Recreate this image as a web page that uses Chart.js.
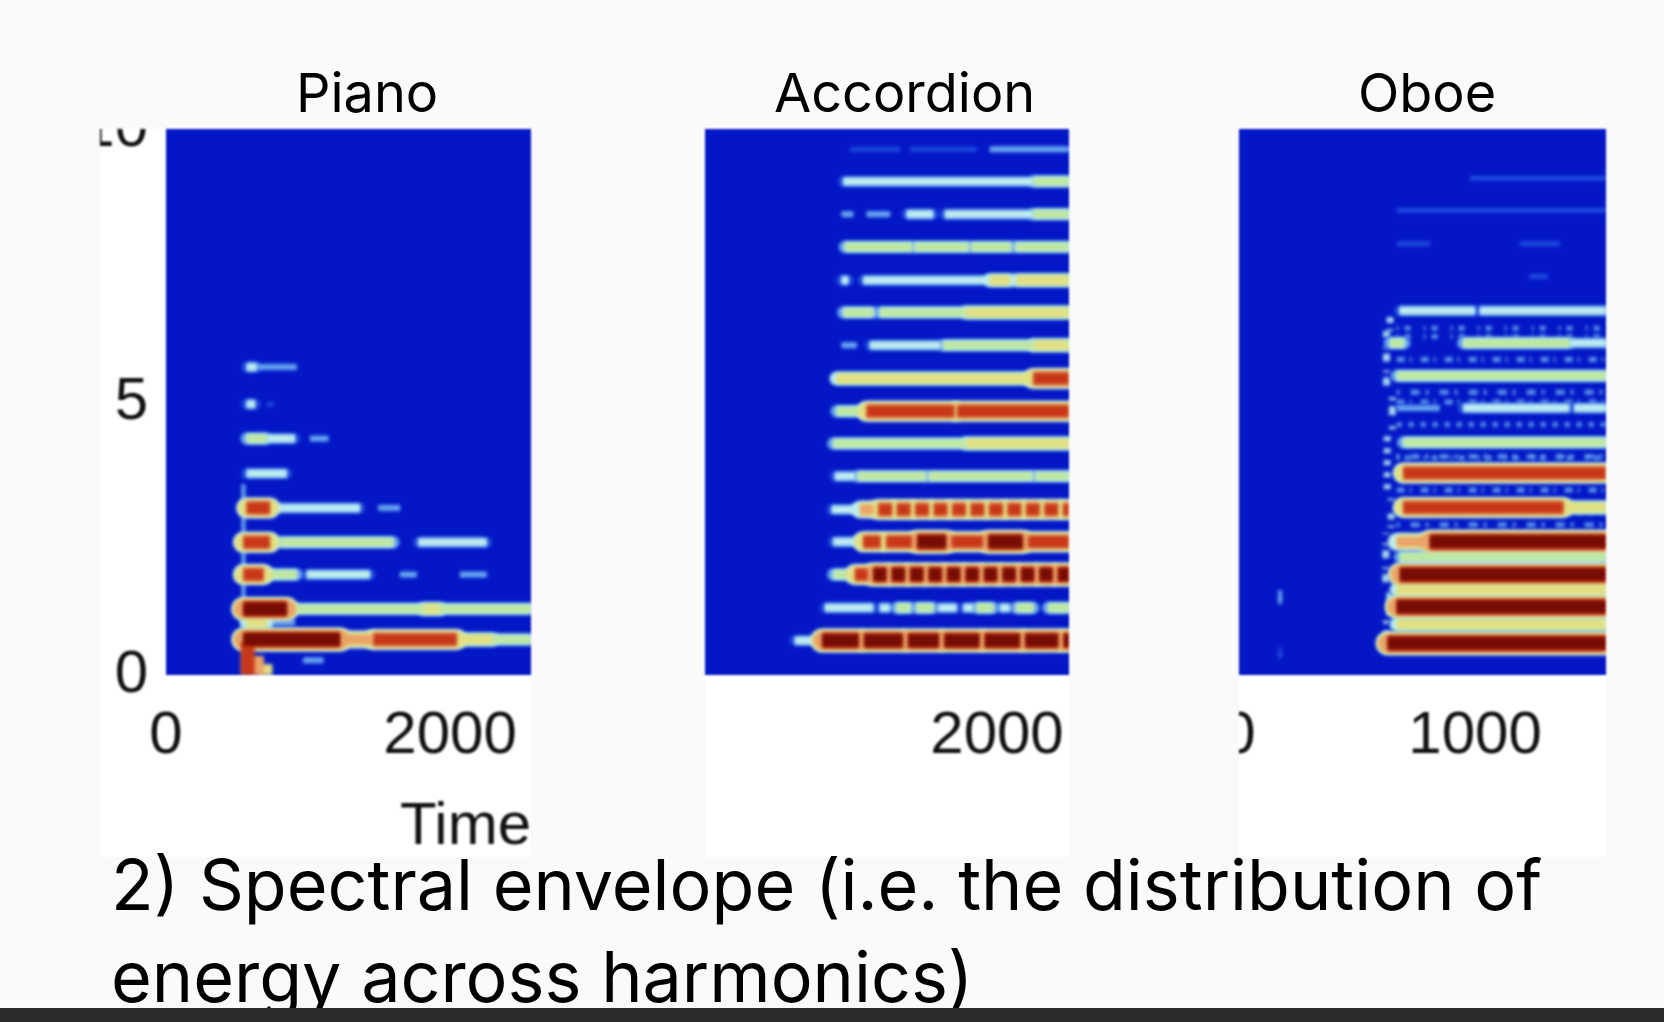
<!DOCTYPE html>
<html><head><meta charset="utf-8">
<script src="https://cdn.jsdelivr.net/npm/chart.js@4"></script>
<style>
html,body{margin:0;padding:0;background:#fafafa;width:1664px;height:1022px;overflow:hidden}
.t{position:absolute;font-family:"Inter",sans-serif;color:#000;white-space:nowrap;line-height:1}
.p{position:absolute;top:129px;height:728px;background:#fff}
.p canvas{filter:blur(.9px)}
#bar{position:absolute;left:0;top:1008px;width:1664px;height:14px;background:#2a2a2a}
</style></head><body>
<div class="p" style="left:100px;width:431px"><canvas id="c0"></canvas></div>
<div class="p" style="left:705px;width:364px"><canvas id="c1"></canvas></div>
<div class="p" style="left:1239px;width:367px"><canvas id="c2"></canvas></div>
<div class="t" style="left:296px;top:66px;font-size:54px">Piano</div>
<div class="t" style="left:774px;top:66px;font-size:54px">Accordion</div>
<div class="t" style="left:1358px;top:66px;font-size:54px">Oboe</div>
<div class="t" style="left:111px;top:850px;font-size:70px">2) Spectral envelope (i.e. the distribution of</div>
<div class="t" style="left:111px;top:942px;font-size:70px">energy across harmonics)</div>
<div id="bar"></div>
<script>
// frequency of each band (kHz); segments are [band, tStart, tEnd, level]; onsets are [t, fLow, fHigh, level]
const pianoBands=[0.27,0.65,0.96,1.21,1.84,2.43,3.06,3.69,4.33,4.96,5.64];
const pianoSegments=[
[0,967,1108,1],
[1,545,1225,7],[1,1225,1460,5],[1,1460,2047,6],[1,2047,2300,4],[1,2300,2568,3],
[2,568,709,4],[2,709,908,1],
[3,545,850,7],[3,873,1812,3],[3,1812,1929,4],[3,1929,2568,3],
[4,545,686,6],[4,709,920,3],[4,991,1436,2],[4,1648,1765,1],[4,2070,2258,1],
[5,545,732,6],[5,803,1601,3],[5,1777,2258,2],
[6,568,732,6],[6,779,1366,2],[6,1495,1648,1],
[7,568,850,2],
[8,568,709,3],[8,709,908,2],[8,1014,1143,1],
[9,568,627,2],[9,709,756,0],
[10,568,639,2],[10,639,920,1]];
const pianoOnsets=[[545,0,3.5,1],[575,0,0.6,6],[640,0,0.35,5],[700,0,0.2,4]];
const pianoXTicks=[0,2000];
const accordionBands=[0.63,1.23,1.84,2.44,3.03,3.64,4.24,4.83,5.43,6.04,6.64,7.23,7.84,8.44,9.04,9.63];
const accordionSegments=[
[0,577,730,2],[0,770,1025,7],[0,1065,1335,7],[0,1375,1590,7],[0,1630,1875,7],[0,1915,2160,7],[0,2200,2430,7],[0,2470,2507,7],
[1,789,1129,2],[1,1175,1246,2],[1,1293,1390,3],[1,1434,1551,3],[1,1587,1716,2],[1,1763,1833,2],[1,1857,1974,3],[1,2020,2091,2],[1,2135,2256,3],[1,2361,2507,3],
[2,847,941,3],[2,1000,1090,6],[2,1130,1220,7],[2,1260,1350,7],[2,1390,1480,7],[2,1520,1610,7],[2,1650,1740,7],[2,1780,1870,7],[2,1910,2000,7],[2,2040,2130,7],[2,2170,2260,7],[2,2300,2390,7],[2,2430,2507,7],
[3,847,1058,2],[3,1058,1180,6],[3,1220,1400,6],[3,1440,1640,7],[3,1680,1900,6],[3,1940,2180,7],[3,2220,2507,6],
[4,836,1035,2],[4,1035,1130,5],[4,1165,1260,6],[4,1295,1390,6],[4,1425,1520,6],[4,1555,1650,6],[4,1685,1780,6],[4,1815,1910,6],[4,1945,2040,6],[4,2075,2170,6],[4,2205,2300,6],[4,2335,2430,6],[4,2465,2507,6],
[5,859,1000,2],[5,1020,1500,3],[5,1520,2250,3],[5,2270,2507,3],
[6,847,1786,3],[6,1786,2507,4],
[7,871,1082,3],[7,1082,1700,6],[7,1720,2507,6],
[8,871,2256,4],[8,2256,2507,6],
[9,906,1012,1],[9,1105,1600,2],[9,1620,2256,3],[9,2256,2507,4],
[10,918,1129,3],[10,1176,1786,3],[10,1786,2507,4],
[11,906,953,2],[11,1058,1950,2],[11,1950,2091,4],[11,2138,2507,4],
[12,929,1400,3],[12,1420,1800,3],[12,1820,2100,3],[12,2130,2507,3],
[13,906,988,1],[13,1082,1246,1],[13,1364,1551,2],[13,1633,2256,2],[13,2256,2507,3],
[14,918,2256,2],[14,2256,2507,3],
[15,965,1317,0],[15,1387,1857,0],[15,1950,2507,1]];
const accordionOnsets=[];
const accordionXTicks=[2000];
const oboeBands=[0.58,0.93,1.25,1.56,1.84,2.16,2.44,3.07,3.7,4.26,4.89,5.48,6.08,6.67,7.3,7.9,8.51,9.1];
const oboeSegments=[
[0,630,1555,7],[1,668,1555,4],[2,668,1555,7],[3,668,1555,4],[4,682,1555,7],[5,682,1555,3],
[6,668,809,5],[6,809,1555,7],[7,696,1374,6],[7,1374,1555,4],[8,696,1555,6],[9,696,1555,3],
[10,668,850,1],[10,950,1400,2],[10,1420,1555,2],[11,668,1555,3],
[12,640,700,3],[12,950,1400,3],[12,1400,1555,2],[13,680,1000,2],[13,1020,1555,2],
[14,1230,1310,0],[15,668,810,0],[15,1190,1360,0],[16,668,1555,0],[17,979,1555,0]];
const oboeOnsets=[[625,0.5,1.0,2],[640,1.1,1.6,2],[622,1.7,2.6,2],[645,2.7,3.3,2],[628,3.4,4.4,2],[650,4.5,5.2,2],[625,5.3,6.3,2],[640,6.3,6.7,2],[174,1.3,1.55,1],[174,0.3,0.5,0]];
const oboeXTicks=[0,1000];
const oboeSpeckle=[1.04,2.75,3.39,3.98,4.59,5.18,5.78,6.35,2.98,4.0,5.0,6.2];

const yTicks=[0,5,10];
const ramp=['#1f49de','#6eaaf0','#c0eef0','#bce8a0','#e2e084','#eaa468','#c83818','#780c04'];
const outerW=[5,7,11,13,15,18,21,24];
const coreW=[5,5,7,8,9,10,12,13];
const hotLayers=[2,4,5,6,7];
const dashes=[[5,7],[3,11,9,6],[8,5,2,9],[2,6,6,13]];
const FONT={family:'"Liberation Sans",Arial,sans-serif',size:60,lineHeight:1};
const plot={id:'plot',
 beforeDraw(c){const a=c.chartArea,x=c.ctx;x.save();x.fillStyle='#0317c6';x.fillRect(a.left,a.top,a.width,a.height);x.restore();},
 beforeDatasetsDraw(c){c.ctx.save();c.ctx.filter='blur(1.8px)';},
 afterDatasetsDraw(c){c.ctx.restore();}};
function build(bands,segs,onsets,speckle){
 const ds=[];
 const add=(pts,L)=>{
  const layers=L>=5?hotLayers.filter(k=>k<=L):Array.from({length:L+1},(_,k)=>k);
  const n=layers.length-1;
  layers.forEach((k,j)=>{const w=n?outerW[L]-(outerW[L]-coreW[L])*j/n:outerW[L];
   ds.push({data:pts,borderColor:ramp[k],borderWidth:w,borderCapStyle:j<n-1?'round':'butt',pointRadius:0,tension:0,order:10-k,clip:0});});
 };
 segs.forEach(s=>add([{x:s[1],y:bands[s[0]]},{x:s[2],y:bands[s[0]]}],s[3]));
 onsets.forEach((o,i)=>{ds.push({data:[{x:o[0],y:o[1]},{x:o[0],y:o[2]}],borderColor:o[3]==2?'#a8dcf0':ramp[o[3]],borderWidth:o[3]>2?14:(o[3]==2?7:4),pointRadius:0,order:o[3]>2?3:10,clip:0,borderDash:o[3]==2?dashes[i%4]:[]});});
 speckle.forEach((f,i)=>ds.push({data:[{x:668,y:f},{x:1555,y:f}],borderColor:'#5a94ea',borderWidth:5,borderDash:dashes[i%4],pointRadius:0,order:11,clip:0}));
 return ds;
}
function make(id,bands,segs,onsets,speckle,xMin,xMax,xTicks,showY,xTitle,w){
 const cv=document.getElementById(id);
 cv.width=w;cv.height=728;cv.style.width=w+'px';cv.style.height='728px';
 const flat=s=>{s.paddingTop=s.paddingBottom=s.paddingLeft=s.paddingRight=0;};
 new Chart(cv,{type:'line',data:{datasets:build(bands,segs,onsets,speckle)},plugins:[plot],
  options:{responsive:false,animation:false,devicePixelRatio:1,layout:{padding:0},
   plugins:{legend:{display:false},tooltip:{enabled:false}},
   scales:{
    x:{type:'linear',min:xMin,max:xMax,grid:{display:false},border:{display:false},
      afterBuildTicks:s=>{s.ticks=xTicks.map(v=>({value:v}));},
      afterFit:s=>{s.height=182;flat(s);},
      ticks:{color:'#111',font:{...FONT,lineHeight:1.2},maxRotation:0,autoSkip:false,padding:17,callback:v=>String(v)},
      title:{display:!!xTitle,text:xTitle||'',align:'end',color:'#111',font:FONT,padding:{top:0,bottom:0}}},
    y:{display:showY,min:0,max:10,grid:{display:false},border:{display:false},
      afterBuildTicks:s=>{s.ticks=yTicks.map(v=>({value:v}));},
      afterFit:s=>{s.width=showY?66:0;flat(s);},
      ticks:{color:'#111',font:{...FONT,lineHeight:1.2},autoSkip:false,padding:10,callback:v=>String(v)}}
   }}});
}
make('c0',pianoBands,pianoSegments,pianoOnsets,[],0,2570,pianoXTicks,true,'Time',431);
make('c1',accordionBands,accordionSegments,accordionOnsets,[],-56,2507,accordionXTicks,false,'',364);
make('c2',oboeBands,oboeSegments,oboeOnsets,oboeSpeckle,0,1555,oboeXTicks,false,'',367);
</script>
</body></html>
